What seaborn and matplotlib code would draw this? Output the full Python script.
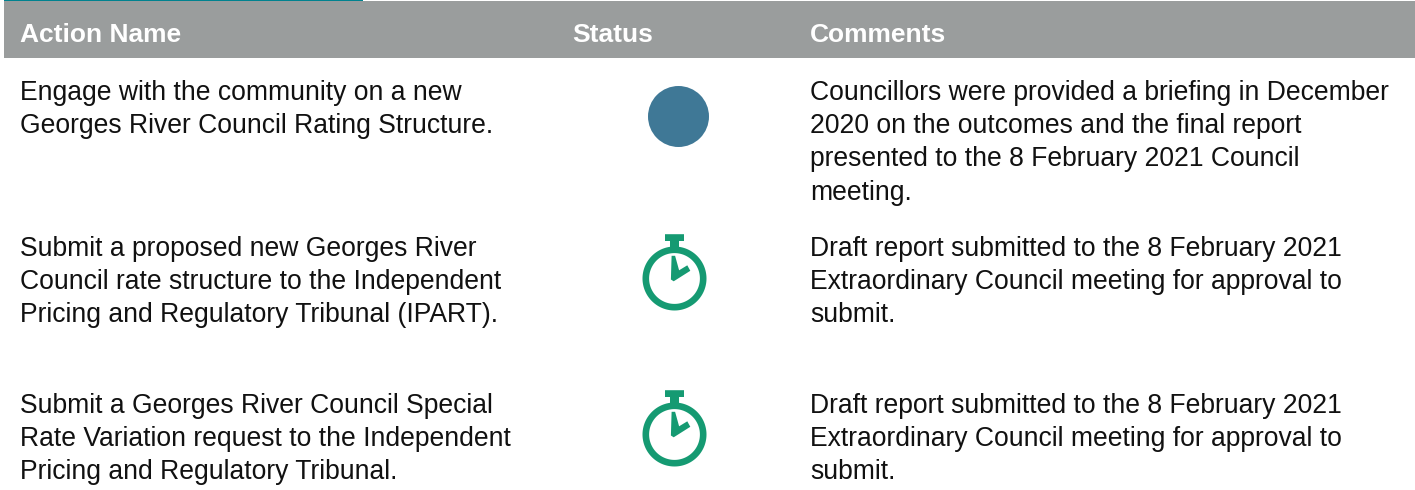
import numpy as np
import pandas as pd
import seaborn as sns
import matplotlib.pyplot as plt
from matplotlib.path import Path
from matplotlib.patches import Rectangle

headers = ["Action Name", "Status", "Comments"]

actions = [
    ["Engage with the community on a new", "Georges River Council Rating Structure."],
    ["Submit a proposed new Georges River", "Council rate structure to the Independent",
     "Pricing and Regulatory Tribunal (IPART)."],
    ["Submit a Georges River Council Special", "Rate Variation request to the Independent",
     "Pricing and Regulatory Tribunal."],
]
statuses = ["Complete", "In progress", "In progress"]
comments = [
    ["Councillors were provided a briefing in December", "2020 on the outcomes and the final report",
     "presented to the 8 February 2021 Council", "meeting."],
    ["Draft report submitted to the 8 February 2021", "Extraordinary Council meeting for approval to",
     "submit."],
    ["Draft report submitted to the 8 February 2021", "Extraordinary Council meeting for approval to",
     "submit."],
]

sns.set_theme(style="white")
plt.rcParams['font.family'] = ['Liberation Sans', 'DejaVu Sans']

# axes run in pixels so the table layout matches the page
fig, ax = plt.subplots(figsize=(14.15, 4.9), dpi=100)
ax.set_position([0, 0, 1, 1])
ax.set_xlim(0, 1415)
ax.set_ylim(490, 0)
ax.axis("off")

# header band and teal tab line
ax.add_patch(Rectangle((4, 1), 1411, 57, color="#9a9d9d", lw=0))
ax.add_patch(Rectangle((4, 0), 359, 1.5, color="#00828f", lw=0))

col_x = [20, 572, 810]
for x, h in zip(col_x, headers):
    ax.text(x, 33, h, color="white", fontsize=19, fontweight="bold", va="center_baseline")

row_y = [90, 246, 403]
line_gap = 33.2
for y, act, com in zip(row_y, actions, comments):
    for i, line in enumerate(act):
        ax.text(col_x[0], y + i * line_gap, line, color="#111111", fontsize=19.1, va="center_baseline")
    for i, line in enumerate(com):
        ax.text(col_x[2], y + i * line_gap, line, color="#111111", fontsize=19.1, va="center_baseline")


# stopwatch icon as one marker, units are px from the clock centre, y up
def stopwatch():
    t = np.linspace(0, 2 * np.pi, 121)
    ring = np.column_stack([np.cos(t), np.sin(t)])
    outer = Path(ring * 32, closed=True)
    inner = Path(ring[::-1] * 25.4, closed=True)
    cap = Path([(-9.5, 37.5), (9.5, 37.5), (9.5, 44.3), (-9.5, 44.3), (-9.5, 37.5)], closed=True)
    neck = Path([(-4.5, 30), (4.5, 30), (4.5, 38), (-4.5, 38), (-4.5, 30)], closed=True)
    hand = Path([(-3.6, -1), (-0.8, -2.8), (15.8, 7.7), (12.8, 13.2), (4.6, 8.2),
                 (0.6, 22.7), (-2.9, 22.7), (-3.6, -1)], closed=True)
    return Path.make_compound_path(outer, inner, cap, neck, hand)


status_df = pd.DataFrame({"status": statuses, "x": [677.7, 674.2, 674.2], "y": [115.7, 277.7, 434]})
px = 72 / 100

sns.scatterplot(data=status_df[status_df.status == "Complete"], x="x", y="y", ax=ax,
                marker="o", s=(61 * px) ** 2, color="#3f7896", linewidth=0, legend=False)
sns.scatterplot(data=status_df[status_df.status == "In progress"], x="x", y="y", ax=ax,
                marker=stopwatch(), s=(88.6 * px) ** 2, color="#159a72", linewidth=0, legend=False)
ax.set_xlim(0, 1415)
ax.set_ylim(490, 0)
ax.axis("off")

fig.savefig("out.png", dpi=100)
